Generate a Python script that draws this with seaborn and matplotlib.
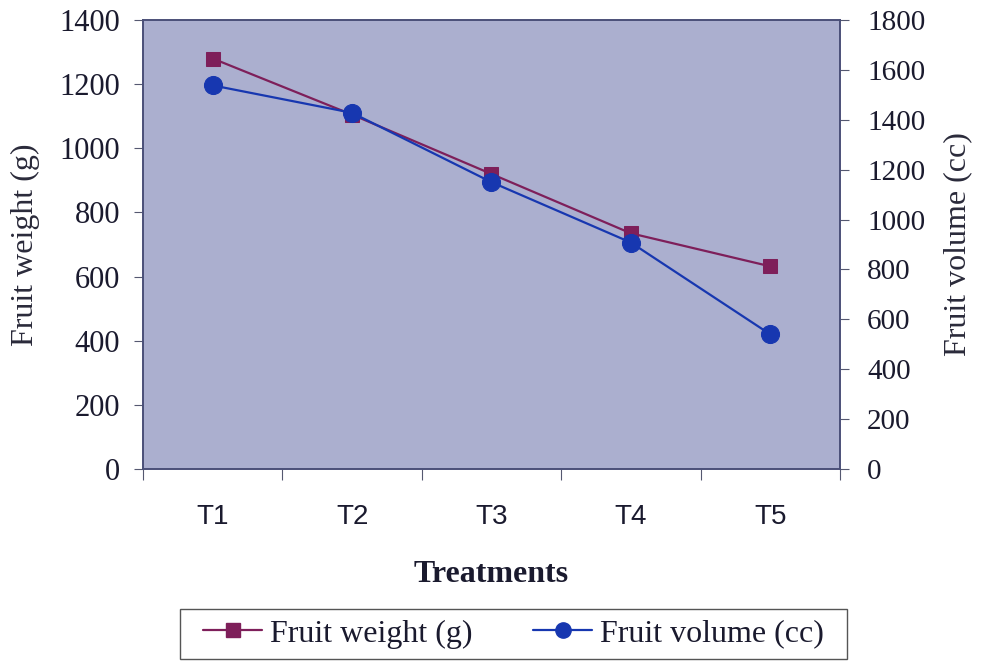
import matplotlib
matplotlib.use("Agg")
import matplotlib.pyplot as plt
import seaborn as sns
import pandas as pd
from matplotlib.lines import Line2D
from matplotlib.patches import Rectangle

treatments = ["T1", "T2", "T3", "T4", "T5"]
fruit_weight = [1280, 1105, 920, 735, 632]
fruit_volume = [1538, 1428, 1150, 908, 540]

df = pd.DataFrame({"Treatment": treatments, "Weight": fruit_weight, "Volume": fruit_volume})
df["x"] = range(len(treatments))

sns.set_style("ticks")
plt.rcParams["font.family"] = ["Liberation Serif", "DejaVu Serif"]

wcol = "#7E1F5A"
vcol = "#1737B0"
bg = "#ABAFCF"
tcol = "#1a1a2e"

fig = plt.figure(figsize=(9.84, 6.68), dpi=100)
ax = fig.add_axes([0.1453, 0.2979, 0.7083, 0.6721])
ax.set_facecolor(bg)
ax2 = ax.twinx()

sns.lineplot(data=df, x="x", y="Weight", ax=ax, color=wcol, marker="s", markersize=10,
             markeredgecolor=wcol, linewidth=1.6, legend=False)
sns.lineplot(data=df, x="x", y="Volume", ax=ax2, color=vcol, marker="o", markersize=13,
             markeredgecolor=vcol, linewidth=1.6, legend=False)

ax.set_xlim(-0.5, 4.5)
ax.set_ylim(0, 1400)
ax2.set_ylim(0, 1800)
ax.set_yticks(range(0, 1401, 200))
ax2.set_yticks(range(0, 1801, 200))

ax.set_xticks([i + 0.5 for i in range(-1, 5)])
ax.set_xticklabels([])
ax.set_xticks(range(5), minor=True)
ax.set_xticklabels(treatments, minor=True, fontfamily="Liberation Sans", fontsize=20, color=tcol)
ax.tick_params(axis="x", which="minor", length=0, pad=25)
ax.tick_params(axis="x", which="major", length=8, direction="out", color="#555870")

ax.tick_params(axis="y", labelsize=22, length=6.5, pad=10, direction="out", color="#555870", labelcolor=tcol)
ax2.tick_params(axis="y", labelsize=21, length=6.5, pad=13, direction="out", color="#555870", labelcolor=tcol)

for a in (ax, ax2):
    for s in a.spines.values():
        s.set_color("#4a4f78")
        s.set_linewidth(1.2)

ax.set_xlabel("Treatments", fontsize=23, fontweight="bold", labelpad=22, color=tcol)
ax.set_ylabel("Fruit weight (g)", fontsize=23, labelpad=14, color="#2a2a3a")
ax2.set_ylabel("Fruit volume (cc)", fontsize=23, labelpad=13, color="#2a2a3a")

handles = [
    Line2D([0], [0], color=wcol, marker="s", markersize=10, linewidth=1.6),
    Line2D([0], [0], color=vcol, marker="o", markersize=11, linewidth=1.6),
]
leg = fig.legend(handles, ["Fruit weight (g)", "Fruit volume (cc)"], loc="center",
                 bbox_to_anchor=(0.522, 0.051), ncol=2, fontsize=23, frameon=False,
                 handlelength=1.85, handletextpad=0.25,
                 columnspacing=1.9, borderpad=0.0, borderaxespad=0)
for t in leg.get_texts():
    t.set_color(tcol)

fig.canvas.draw()
bb = leg.get_window_extent()
padx, pady = 23, 10
W, H = fig.bbox.width, fig.bbox.height
rect = Rectangle(((bb.x0 - padx) / W, (bb.y0 - pady) / H),
                 (bb.width + 2 * padx) / W, (bb.height + 2 * pady) / H,
                 transform=fig.transFigure, fill=False, edgecolor="#555555", linewidth=1.0)
fig.add_artist(rect)

fig.savefig("out.png", dpi=100)
